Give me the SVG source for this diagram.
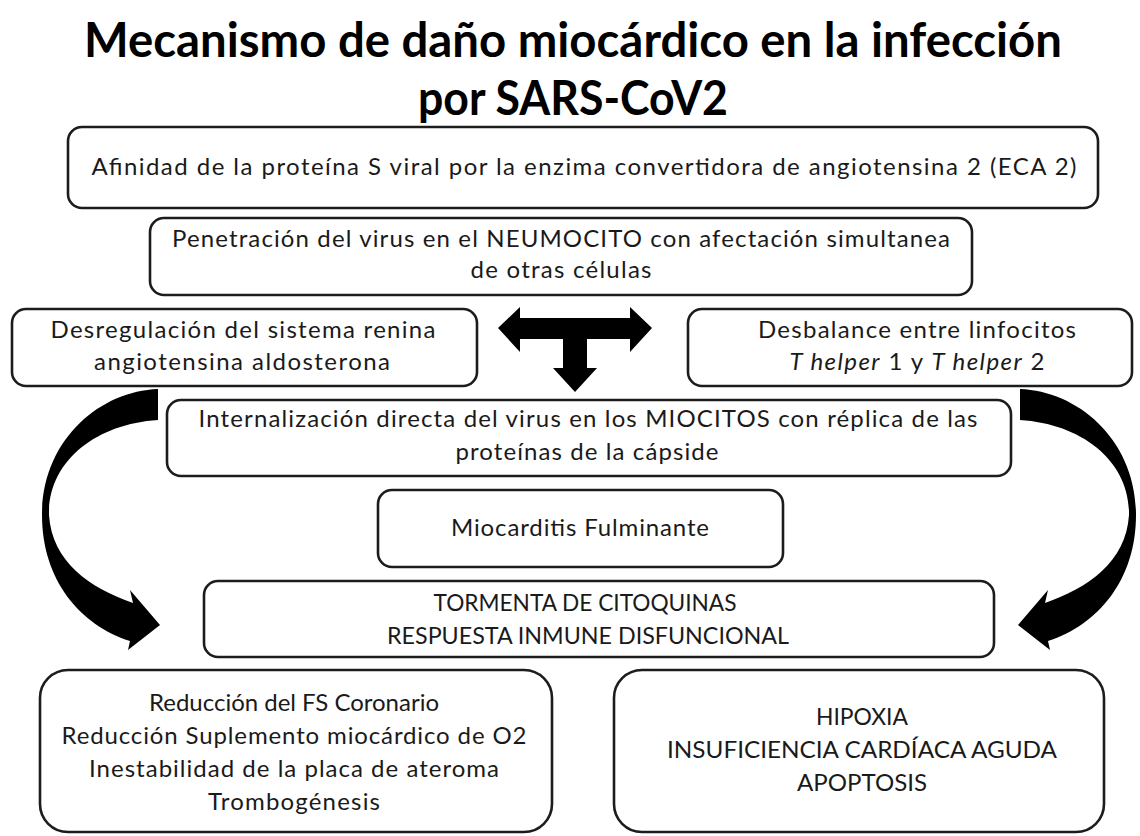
<svg xmlns="http://www.w3.org/2000/svg" width="1140" height="836" viewBox="0 0 1140 836">
<style>
.bg{fill:#fff}
.box{fill:#fff;stroke:#1c1c1c;stroke-width:2.6}
.t{font-family:Lato,"Open Sans","Liberation Sans",sans-serif;font-size:24px;fill:#1a1a1a;text-anchor:middle}
.title{font-family:Lato,"Open Sans","Liberation Sans",sans-serif;font-size:47px;font-weight:700;fill:#000;text-anchor:middle}
.arr{fill:#000;stroke:none}
.i{font-style:italic}
</style>
<rect class="bg" x="0" y="0" width="1140" height="836"/>
<g id="title">
<text class="title" x="573" y="57" textLength="978" lengthAdjust="spacingAndGlyphs">Mecanismo de daño miocárdico en la infección</text>
<text class="title" x="573" y="115" textLength="310" lengthAdjust="spacingAndGlyphs">por SARS-CoV2</text>
</g>
<g id="n1">
<rect class="box" x="68" y="127" width="1030" height="81" rx="14"/>
<text class="t" x="584" y="175" textLength="985">Afinidad de la proteína S viral por la enzima convertidora de angiotensina 2  (ECA 2)</text>
</g>
<g id="n2">
<rect class="box" x="150" y="218" width="822" height="77" rx="14"/>
<text class="t" x="561" y="247" textLength="778">Penetración del virus en el NEUMOCITO con afectación simultanea</text>
<text class="t" x="561" y="278" textLength="181">de otras células</text>
</g>
<g id="n3">
<rect class="box" x="12" y="309" width="465" height="77" rx="14"/>
<text class="t" x="243" y="338" textLength="385">Desregulación del sistema renina</text>
<text class="t" x="242" y="370" textLength="296">angiotensina aldosterona</text>
</g>
<g id="n4">
<rect class="box" x="688" y="309" width="444" height="77" rx="14"/>
<text class="t" x="917" y="338" textLength="318">Desbalance entre linfocitos</text>
<text class="t" x="917" y="370" textLength="255"><tspan class="i">T helper</tspan> 1 y <tspan class="i">T helper</tspan> 2</text>
</g>
<g id="n5">
<rect class="box" x="167" y="400" width="844" height="76" rx="14"/>
<text class="t" x="588" y="427" textLength="779">Internalización directa del virus en los MIOCITOS con réplica de las</text>
<text class="t" x="587" y="460" textLength="263">proteínas de la cápside</text>
</g>
<g id="n6">
<rect class="box" x="378" y="490" width="405" height="77" rx="14"/>
<text class="t" x="580" y="536" textLength="258">Miocarditis Fulminante</text>
</g>
<g id="n7">
<rect class="box" x="204" y="581" width="790" height="76" rx="14"/>
<text class="t" x="585" y="611" textLength="303" lengthAdjust="spacingAndGlyphs">TORMENTA DE CITOQUINAS</text>
<text class="t" x="588" y="644" textLength="402" lengthAdjust="spacingAndGlyphs">RESPUESTA INMUNE DISFUNCIONAL</text>
</g>
<g id="n8">
<rect class="box" x="40" y="670" width="512" height="162" rx="28"/>
<text class="t" x="294" y="711" textLength="290">Reducción del FS Coronario</text>
<text class="t" x="294" y="744" textLength="465">Reducción  Suplemento miocárdico de O2</text>
<text class="t" x="294" y="777" textLength="410">Inestabilidad de la placa de ateroma</text>
<text class="t" x="294" y="810" textLength="172">Trombogénesis</text>
</g>
<g id="n9">
<rect class="box" x="614" y="670" width="490" height="162" rx="28"/>
<text class="t" x="862" y="725" textLength="92" lengthAdjust="spacingAndGlyphs">HIPOXIA</text>
<text class="t" x="862" y="758" textLength="390" lengthAdjust="spacingAndGlyphs">INSUFICIENCIA CARDÍACA AGUDA</text>
<text class="t" x="862" y="791" textLength="130" lengthAdjust="spacingAndGlyphs">APOPTOSIS</text>
</g>
<g id="connectors">
<path class="arr" d="M498,328 L520,307 L520,318 L630,318 L630,307 L652,328 L630,352 L630,339 L587,339 L587,368 L597,368 L575,392 L553,368 L563,368 L563,339 L520,339 L520,352 Z"/>
<path id="curveL" class="arr" d="M158,389 C100,391 42,440 42,515 C42,580 80,625 130,641 L128,650 L160,625 L130,590 L133,603 C90,588 52,562 49,515 C48,462 95,424 158,420 Z"/>
<use href="#curveL" transform="translate(1178,0) scale(-1,1)"/>
</g>
</svg>
